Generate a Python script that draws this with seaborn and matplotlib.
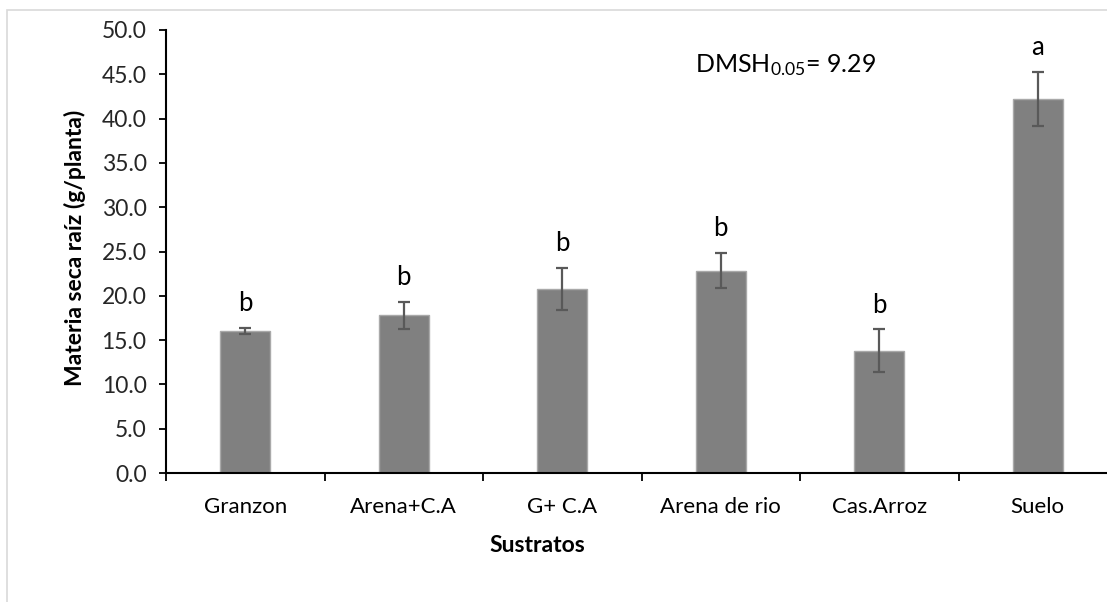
import matplotlib
matplotlib.use("Agg")
import matplotlib.pyplot as plt
import seaborn as sns
import pandas as pd
import numpy as np
from matplotlib.patches import Rectangle

categories = ["Granzon", "Arena+C.A", "G+ C.A", "Arena de rio", "Cas.Arroz", "Suelo"]
values = [16.05, 17.8, 20.8, 22.85, 13.8, 42.25]
errors = [0.35, 1.5, 2.35, 1.95, 2.4, 3.05]
letters = ["b", "b", "b", "b", "b", "a"]
yticks = [0, 5, 10, 15, 20, 25, 30, 35, 40, 45, 50]

sns.set_theme(style="white")
plt.rcParams["font.family"] = ["Lato", "DejaVu Sans"]
plt.rcParams["mathtext.default"] = "regular"

df = pd.DataFrame({"Sustrato": categories, "Valor": values})

fig = plt.figure(figsize=(11.07, 6.02), dpi=100)
W, H = 1107, 602
x0, x1, yb, yt = 166, 1117, 473, 30
ax = fig.add_axes([x0 / W, 1 - yb / H, (x1 - x0) / W, (yb - yt) / H])

sns.barplot(data=df, x="Sustrato", y="Valor", color="#808080", width=0.315,
            edgecolor="#a9a9a9", linewidth=1, saturation=1, ax=ax, errorbar=None)
ax.errorbar(np.arange(len(categories)), values, yerr=errors, fmt="none",
            ecolor="#595959", elinewidth=1.6, capsize=4.5, capthick=1.6, zorder=5)

for i, (v, e, l) in enumerate(zip(values, errors, letters)):
    ax.text(i, v + e + 1.9, l, ha="center", va="baseline", fontsize=18.5, color="black")

ax.text(2.84, 45.2, r"DMSH$_{0.05}$= 9.29", ha="left", va="baseline", fontsize=18, color="black")

ax.set_xlim(-0.5, len(categories) - 0.5)
ax.set_ylim(0, 50)
ax.set_yticks(yticks)
ax.set_yticklabels([f"{t:.1f}" for t in yticks], fontsize=16.5)
ax.set_xticks(range(len(categories)))
ax.set_xticklabels(categories, fontsize=16)
ax.set_xticks(np.arange(-0.5, len(categories), 1.0), minor=True)
ax.tick_params(axis="x", which="major", length=0, pad=17, colors="black")
ax.tick_params(axis="x", which="minor", length=6, width=1.3, direction="out", color="black", bottom=True)
ax.tick_params(axis="y", which="major", length=5, width=1.3, direction="out", color="black", left=True, pad=9)
for s in ["top", "right"]:
    ax.spines[s].set_visible(False)
for s in ["left", "bottom"]:
    ax.spines[s].set_color("black")
    ax.spines[s].set_linewidth(1.5)

ax.set_xlabel("")
ax.set_ylabel("")
fig.text(537 / W, 1 - 545 / H, "Sustratos", ha="center", va="center",
         fontsize=16.5, fontweight="bold", color="black")
fig.text(75 / W, 1 - 248 / H, "Materia seca raíz (g/planta)", ha="center", va="center",
         rotation=90, fontsize=16.5, fontweight="bold", color="black")

fig.patches.append(Rectangle((7 / W, -0.1), 1.2, 1 - 10 / H + 0.1, transform=fig.transFigure,
                             fill=False, edgecolor="#d9d9d9", linewidth=1.2))

fig.savefig("out.png", dpi=100)
